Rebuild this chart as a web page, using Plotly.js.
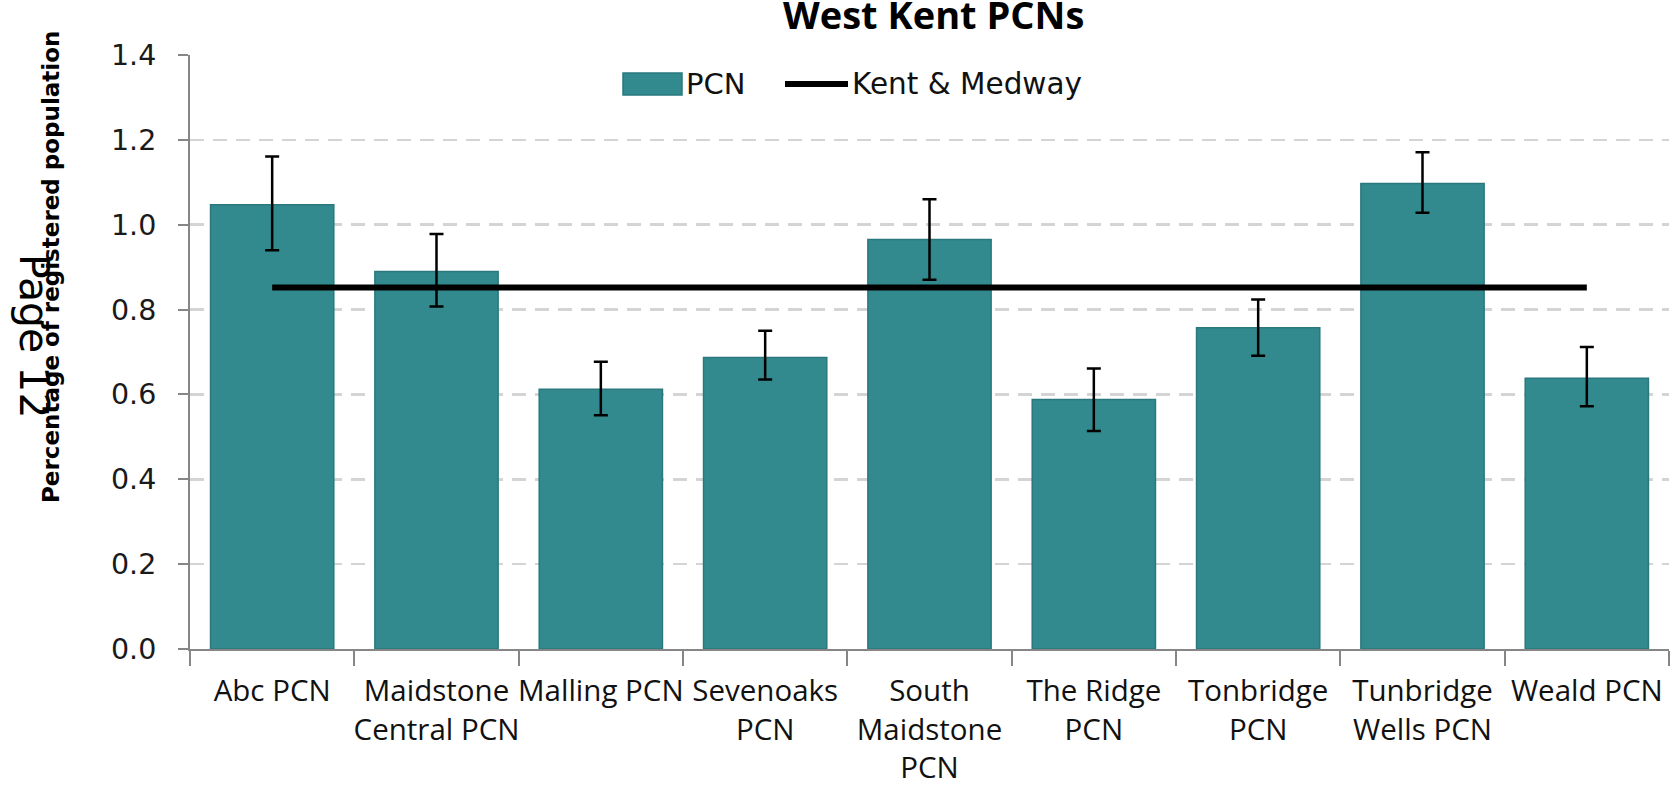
<!DOCTYPE html>
<html>
<head>
<meta charset="utf-8">
<script src="https://cdn.plot.ly/plotly-3.0.1.min.js"></script>
<style>
  html, body { margin: 0; padding: 0; background: #ffffff; }
  #chart { width: 1677px; height: 786px; }
</style>
</head>
<body>
<div id="chart"></div>
<script>
// ---- Data ----
const categories = [
  "Abc PCN",
  "Maidstone<br>Central PCN",
  "Malling PCN",
  "Sevenoaks<br>PCN",
  "South<br>Maidstone<br>PCN",
  "The Ridge<br>PCN",
  "Tonbridge<br>PCN",
  "Tunbridge<br>Wells PCN",
  "Weald PCN"
];
const pcnValues = [1.047, 0.890, 0.612, 0.687, 0.965, 0.588, 0.757, 1.097, 0.638];
const upperCI   = [1.161, 0.978, 0.677, 0.750, 1.060, 0.661, 0.824, 1.171, 0.712];
const lowerCI   = [0.940, 0.807, 0.551, 0.635, 0.870, 0.514, 0.691, 1.028, 0.572];
const kentMedwayValue = 0.852;
const kentMedway = categories.map(() => kentMedwayValue);
const yTickValues = [0, 0.2, 0.4, 0.6, 0.8, 1.0, 1.2, 1.4];

const chartTitle = "West Kent PCNs";
const yTitle = "Percentage of registered population";
const pageLabel = "Page 12";
const legendPCN = "PCN";
const legendKM = "Kent & Medway";

// ---- Layout helpers (pixel -> paper) ----
const W = 1677, H = 786;
const M = { l: 190, r: 8, t: 55, b: 137 };
const PW = W - M.l - M.r, PH = H - M.t - M.b;
const px = v => (v - M.l) / PW;
const py = v => (H - M.b - v) / PH;

const teal = "rgb(50,138,143)";
const tealEdge = "rgb(42,120,125)";
const axisGrey = "rgb(134,134,134)";
const labelFont = "Open Sans, DejaVu Sans, sans-serif";
const legendFont = "DejaVu Sans, sans-serif";

const traces = [
  {
    type: "bar",
    name: legendPCN,
    x: categories,
    y: pcnValues,
    marker: { color: teal, line: { color: tealEdge, width: 1.5 } },
    error_y: {
      type: "data",
      symmetric: false,
      array: pcnValues.map((v, i) => upperCI[i] - v),
      arrayminus: pcnValues.map((v, i) => v - lowerCI[i]),
      color: "#000000",
      thickness: 2.5,
      width: 7
    },
    hoverinfo: "x+y"
  },
  {
    type: "scatter",
    mode: "lines",
    name: legendKM,
    x: categories,
    y: kentMedway,
    line: { color: "#000000", width: 6 }
  }
];

const layout = {
  width: W,
  height: H,
  margin: M,
  paper_bgcolor: "#ffffff",
  plot_bgcolor: "#ffffff",
  showlegend: false,
  bargap: 0.25,
  xaxis: {
    type: "category",
    showline: true,
    linecolor: axisGrey,
    linewidth: 2,
    ticks: "outside",
    tickson: "boundaries",
    ticklen: 15,
    tickwidth: 2,
    tickcolor: axisGrey,
    showgrid: false,
    ticklabelstandoff: 15,
    tickfont: { family: labelFont, size: 29.5, color: "#111111" },
    tickangle: 0,
    automargin: false,
    fixedrange: true
  },
  yaxis: {
    range: [0, 1.4],
    tickvals: yTickValues,
    tickformat: ".1f",
    showline: true,
    linecolor: axisGrey,
    linewidth: 2,
    ticks: "outside",
    ticklen: 10,
    tickwidth: 2,
    tickcolor: axisGrey,
    showgrid: true,
    gridcolor: "rgb(212,212,212)",
    gridwidth: 2.5,
    griddash: "14px,9px",
    zeroline: false,
    ticklabelstandoff: 16,
    tickfont: { family: "DejaVu Sans, sans-serif", size: 28.5, color: "#1a1a1a" },
    automargin: false,
    fixedrange: true
  },
  shapes: [
    // legend swatch
    { type: "rect", xref: "paper", yref: "paper",
      x0: px(623), x1: px(682), y0: py(95), y1: py(73),
      fillcolor: teal, line: { color: tealEdge, width: 1.5 } },
    // legend line
    { type: "line", xref: "paper", yref: "paper",
      x0: px(785), x1: px(848), y0: py(84), y1: py(84),
      line: { color: "#000000", width: 6 } }
  ],
  annotations: [
    { text: "<b>" + chartTitle + "</b>", xref: "paper", yref: "paper",
      x: px(933), y: py(14), xanchor: "center", yanchor: "middle",
      showarrow: false, font: { family: "Open Sans, sans-serif", size: 38, color: "#000000" } },
    { text: legendPCN, xref: "paper", yref: "paper",
      x: px(684), y: py(84), xanchor: "left", yanchor: "middle",
      showarrow: false, font: { family: legendFont, size: 29, color: "#111111" } },
    { text: legendKM, xref: "paper", yref: "paper",
      x: px(850), y: py(84), xanchor: "left", yanchor: "middle",
      showarrow: false, font: { family: legendFont, size: 29.5, color: "#111111" } },
    { text: "<b>" + yTitle + "</b>", xref: "paper", yref: "paper",
      x: px(51), y: py(267), xanchor: "center", yanchor: "middle", textangle: -90,
      showarrow: false, font: { family: "DejaVu Sans, sans-serif", size: 23, color: "#000000" } },
    { text: pageLabel, xref: "paper", yref: "paper",
      x: px(34), y: py(336), xanchor: "center", yanchor: "middle", textangle: 90,
      showarrow: false, font: { family: "DejaVu Sans, sans-serif", size: 41, color: "#000000" } }
  ]
};

Plotly.newPlot("chart", traces, layout, { displayModeBar: false, staticPlot: true });
</script>
</body>
</html>
